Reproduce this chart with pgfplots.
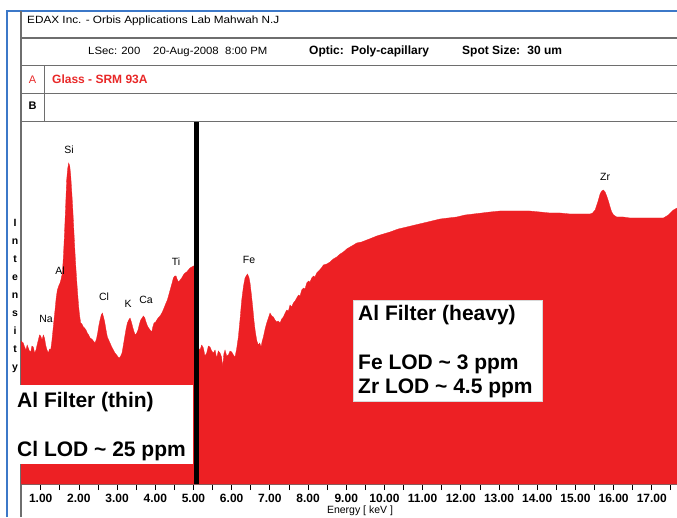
\documentclass[border=0pt]{standalone}
\usepackage{pgfplots}
\pgfplotsset{compat=1.18}
\usepackage{fontspec}
\setmainfont{Liberation Sans}
\definecolor{spred}{RGB}{237,32,36}
\definecolor{hdrred}{RGB}{232,40,40}
\definecolor{frameblue}{RGB}{60,120,200}
\definecolor{framegray}{RGB}{110,110,110}
\newcommand\fsz[1]{\fontsize{#1}{#1}\selectfont}
\begin{document}
\begin{tikzpicture}
\useasboundingbox (0pt,0pt) rectangle (677pt,517pt);
\clip (0pt,0pt) rectangle (677pt,517pt);
% frame
\draw[frameblue, line width=1.4pt] (7pt,0pt) -- (7pt,506pt) -- (677pt,506pt);
\draw[framegray, line width=1.4pt] (21pt,0pt) -- (21pt,506pt);
\draw[framegray, line width=1.6pt] (21pt,479pt) -- (677pt,479pt);
\draw[framegray, line width=1pt] (21pt,451pt) -- (677pt,451pt);
\draw[framegray, line width=1pt] (21pt,423pt) -- (677pt,423pt);
\draw[framegray, line width=1pt] (21pt,395pt) -- (677pt,395pt);
\draw[framegray, line width=1pt] (44pt,451pt) -- (44pt,395pt);
% header texts
\node[anchor=base west, inner sep=0] at (27pt,493pt) {\scalebox{1.12}[1]{\fsz{10.5}EDAX Inc. - Orbis Applications Lab Mahwah N.J}};
\node[anchor=base west, inner sep=0] at (88pt,462.5pt) {\scalebox{1.08}[1]{\fsz{10.5}LSec: 200}};
\node[anchor=base west, inner sep=0] at (153pt,462.5pt) {\scalebox{1.08}[1]{\fsz{10.5}20-Aug-2008}};
\node[anchor=base west, inner sep=0] at (225pt,462.5pt) {\scalebox{1.08}[1]{\fsz{10.5}8:00 PM}};
\node[anchor=base west, inner sep=0] at (309pt,462.5pt) {\fsz{12}\bfseries Optic:\hspace{0.6em}Poly-capillary};
\node[anchor=base west, inner sep=0] at (462pt,462.5pt) {\fsz{12}\bfseries Spot Size:\hspace{0.6em}30 um};
\node[anchor=base, inner sep=0, text=hdrred] at (32.5pt,433.5pt) {\fsz{11}A};
\node[anchor=base west, inner sep=0, text=hdrred] at (52pt,433.5pt) {\fsz{12}\bfseries Glass - SRM 93A};
\node[anchor=base, inner sep=0] at (32.5pt,407pt) {\fsz{11}\bfseries B};
% y label letters
\foreach \L [count=\k from 0] in {I,n,t,e,n,s,i,t,y}{
  \node[anchor=base, inner sep=0] at (15pt,{290pt-17.9pt*\k}) {\fsz{10.5}\bfseries\L};
}
\begin{axis}[
  at={(21pt,33pt)}, anchor=south west,
  scale only axis, width=656pt, height=362pt,
  xmin=0.484, xmax=17.66, ymin=0, ymax=362,
  axis x line*=bottom, axis y line=none,
  x axis line style={-, draw=framegray, line width=1.2pt},
  xtick={1,2,...,17},
  xticklabels={1.00,2.00,3.00,4.00,5.00,6.00,7.00,8.00,9.00,10.00,11.00,12.00,13.00,14.00,15.00,16.00,17.00},
  minor xtick={1.5,2.5,...,16.5,17.5},
  tick align=outside, major tick length=6pt, minor tick length=6pt,
  every tick/.style={black, line width=0.8pt},
  xticklabel style={font=\fsz{12}\bfseries, inner sep=1pt, yshift=-2.5pt},
  /pgf/number format/assume math mode=true,
  clip=true,
]
% thin filter spectrum
\addplot[fill=spred, draw=spred, line width=0.3pt] coordinates {
(0.484,143) (0.545,141) (0.580,137) (0.615,134) (0.645,139) (0.676,136) (0.705,133) (0.738,132)
(0.770,138) (0.807,137) (0.840,131) (0.877,134) (0.905,139) (0.938,144) (0.970,149) (0.999,148)
(1.035,144) (1.069,149) (1.100,146) (1.130,139) (1.165,134) (1.200,131) (1.230,135) (1.261,134)
(1.290,142) (1.314,151) (1.345,163) (1.375,174) (1.405,186) (1.436,194) (1.470,198) (1.506,201)
(1.535,205) (1.567,211) (1.595,228) (1.619,247) (1.650,275) (1.680,304) (1.705,315) (1.733,321)
(1.760,318) (1.785,309) (1.810,294) (1.837,277) (1.865,256) (1.890,237) (1.915,220) (1.942,204)
(1.970,189) (1.995,177) (2.020,168) (2.047,161) (2.080,160) (2.117,157) (2.150,156) (2.186,154)
(2.220,151) (2.256,149) (2.295,146) (2.335,145) (2.380,143) (2.422,141) (2.460,145) (2.492,151)
(2.525,159) (2.553,164) (2.585,169) (2.614,171) (2.645,167) (2.675,162) (2.710,154) (2.745,147)
(2.780,144) (2.815,141) (2.860,137) (2.902,134) (2.945,131) (2.990,129) (3.025,127) (3.059,126)
(3.095,128) (3.129,131) (3.165,139) (3.199,147) (3.235,155) (3.269,161) (3.305,164) (3.339,166)
(3.375,162) (3.408,157) (3.445,152) (3.478,149) (3.515,151) (3.548,154) (3.585,160) (3.618,164)
(3.655,166) (3.688,168) (3.725,166) (3.758,162) (3.795,158) (3.827,156) (3.865,154) (3.906,152)
(3.935,157) (3.967,161) (4.010,162) (4.054,165) (4.100,167) (4.142,169) (4.185,172) (4.229,176)
(4.270,180) (4.316,184) (4.360,190) (4.403,196) (4.440,201) (4.473,206) (4.510,208) (4.543,208)
(4.580,204) (4.613,202) (4.650,204) (4.692,206) (4.735,209) (4.779,211) (4.820,212) (4.866,214)
(4.910,216) (4.953,217) (5.000,218) (5.041,218) (5.085,218)
} \closedcycle;
% heavy filter spectrum
\addplot[fill=spred, draw=spred, line width=0.3pt] coordinates {
(5.090,128) (5.130,136) (5.171,134) (5.215,139) (5.259,136) (5.300,128) (5.346,131) (5.390,138)
(5.433,137) (5.477,133) (5.521,131) (5.565,134) (5.608,126) (5.650,133) (5.695,131) (5.735,127)
(5.765,117) (5.795,130) (5.826,134) (5.870,128) (5.913,129) (5.957,133) (6.001,132) (6.045,129)
(6.088,127) (6.130,135) (6.175,147) (6.220,165) (6.263,184) (6.310,198) (6.350,206) (6.411,210)
(6.450,207) (6.481,201) (6.515,190) (6.551,177) (6.585,163) (6.620,152) (6.660,143) (6.699,139)
(6.735,141) (6.769,137) (6.800,143) (6.830,147) (6.875,155) (6.917,161) (6.960,166) (7.004,171)
(7.050,168) (7.092,167) (7.135,164) (7.179,162) (7.220,163) (7.266,161) (7.310,165) (7.354,167)
(7.400,171) (7.441,174) (7.485,173) (7.528,179) (7.570,177) (7.615,181) (7.660,183) (7.703,186)
(7.750,189) (7.790,188) (7.834,194) (7.880,196) (7.920,195) (7.965,201) (8.010,203) (8.050,202)
(8.096,206) (8.140,208) (8.180,207) (8.226,211) (8.300,214) (8.350,216) (8.401,219) (8.490,220)
(8.576,222) (8.660,225) (8.750,227) (8.840,230) (8.925,232) (9.010,235) (9.099,237) (9.190,239)
(9.274,241) (9.400,242) (9.536,244) (9.670,246) (9.798,248) (9.970,250) (10.147,252) (10.360,255)
(10.583,257) (10.800,259) (11.020,261) (11.240,263) (11.456,265) (11.670,266) (11.892,267) (12.110,269)
(12.329,270) (12.550,271) (12.765,272) (13.027,273) (13.300,273) (13.551,273) (13.800,273) (14.074,272)
(14.330,271) (14.598,271) (14.860,270) (15.122,270) (15.384,270) (15.450,271) (15.515,274) (15.560,279)
(15.602,284) (15.645,290) (15.689,293) (15.733,294) (15.777,292) (15.820,288) (15.864,283) (15.908,277)
(15.951,272) (16.000,269) (16.082,267) (16.250,267) (16.431,266) (16.650,266) (16.867,266) (17.080,266)
(17.304,266) (17.435,269) (17.566,274) (17.660,276)
} \closedcycle;
% filter change marker
\addplot[black, line width=4.5pt] coordinates {(5.085,0) (5.085,362)};
% element labels
\node[font=\fsz{10.5}] at (axis cs:1.741,334) {Si};
\node[font=\fsz{10.5}] at (axis cs:1.506,213) {Al};
\node[font=\fsz{10.5}] at (axis cs:1.139,165) {Na};
\node[font=\fsz{10.5}] at (axis cs:2.658,187) {Cl};
\node[font=\fsz{10.5}] at (axis cs:3.286,180) {K};
\node[font=\fsz{10.5}] at (axis cs:3.758,184) {Ca};
\node[font=\fsz{10.5}] at (axis cs:4.543,222) {Ti};
\node[font=\fsz{10.5}] at (axis cs:6.455,224) {Fe};
\node[font=\fsz{10.5}] at (axis cs:15.777,307) {Zr};
\end{axis}
% annotation boxes
\fill[white] (12pt,53pt) rectangle (193pt,132pt);
\node[anchor=base west, inner sep=0] at (17pt,110pt) {\fsz{21}\bfseries Al Filter (thin)};
\node[anchor=base west, inner sep=0] at (17pt,61pt) {\fsz{21}\bfseries Cl LOD \textasciitilde{} 25 ppm};
\filldraw[fill=white, draw=black!15, line width=0.5pt] (353pt,116pt) rectangle (542pt,217pt);
\node[anchor=base west, inner sep=0] at (358pt,196pt) {\fsz{21}\bfseries Al Filter (heavy)};
\node[anchor=base west, inner sep=0] at (358pt,147pt) {\fsz{21}\bfseries Fe LOD \textasciitilde{} 3 ppm};
\node[anchor=base west, inner sep=0] at (358pt,124pt) {\fsz{21}\bfseries Zr LOD \textasciitilde{} 4.5 ppm};
% x label
\node[anchor=base, inner sep=0] at (360pt,3.5pt) {\fsz{10.5}Energy [ keV ]};
\end{tikzpicture}
\end{document}
